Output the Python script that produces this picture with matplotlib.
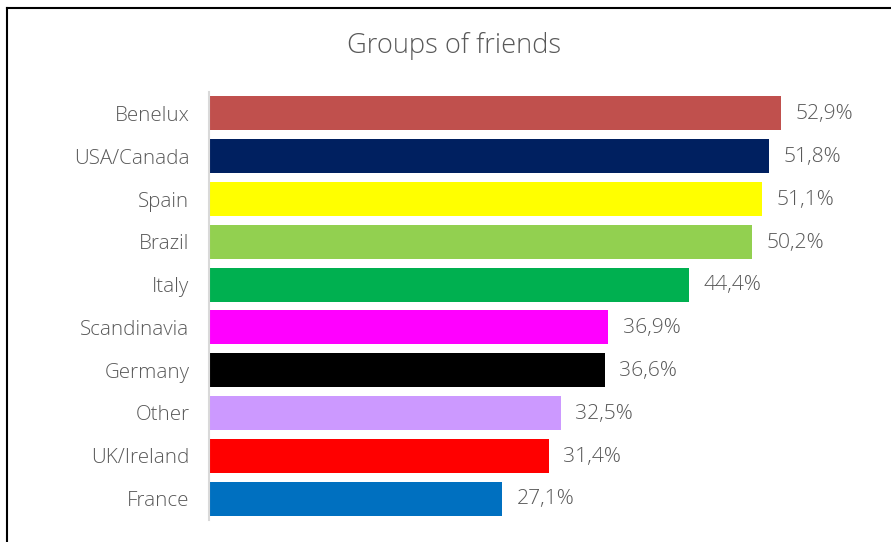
import matplotlib
matplotlib.use("Agg")
import matplotlib.pyplot as plt
from matplotlib.lines import Line2D

categories = ["Benelux", "USA/Canada", "Spain", "Brazil", "Italy",
              "Scandinavia", "Germany", "Other", "UK/Ireland", "France"]
values = [52.9, 51.8, 51.1, 50.2, 44.4, 36.9, 36.6, 32.5, 31.4, 27.1]
colors = ["#C0504D", "#002060", "#FFFF00", "#92D050", "#00B050",
          "#FF00FF", "#000000", "#CC99FF", "#FF0000", "#0070C0"]
title = "Groups of friends"

W, H = 891, 542
fig = plt.figure(figsize=(W / 100, H / 100), dpi=100)

font = ["Open Sans", "DejaVu Sans"]
grey = "#595959"

# axes placed in pixel terms
left, right, top, bottom = 209, 858, 92, 520
ax = fig.add_axes([left / W, 1 - bottom / H, (right - left) / W, (bottom - top) / H])

pos = list(range(len(categories)))
ax.barh(pos, values, height=0.79, color=colors)
ax.set_ylim(len(categories) - 0.5, -0.5)
ax.set_xlim(0, 60)

ax.set_yticks(pos)
ax.set_yticklabels(categories, family=font, fontsize=14.8, color=grey, fontweight="light")
ax.tick_params(axis="y", length=0, pad=14)
ax.set_xticks([])

for s in ["top", "right", "bottom"]:
    ax.spines[s].set_visible(False)
ax.spines["left"].set_color("#D9D9D9")
ax.spines["left"].set_linewidth(1.5)

for p, v in zip(pos, values):
    ax.text(v + 1.35, p + 0.02, f"{v:.1f}%".replace(".", ","), va="center", ha="left",
            family=font, fontsize=15.2, color=grey, fontweight="light")

fig.text(454 / W, 1 - 46 / H, title, ha="center", va="center",
         family=font, fontsize=19.6, color=grey, fontweight="light")

# outer frame (left and top edges)
fig.add_artist(Line2D([7 / W, 7 / W], [0, 1 - 8 / H], transform=fig.transFigure,
                      color="black", lw=1.5))
fig.add_artist(Line2D([7 / W, 1], [1 - 8 / H, 1 - 8 / H], transform=fig.transFigure,
                      color="black", lw=1.5))

fig.savefig("out.png", dpi=100)
